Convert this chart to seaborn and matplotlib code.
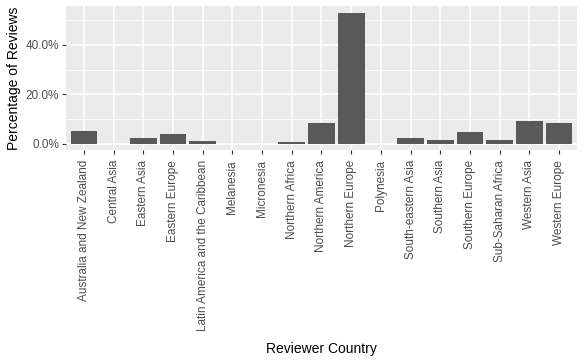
import matplotlib
matplotlib.use("Agg")
import matplotlib.pyplot as plt
import matplotlib.ticker as mticker
import seaborn as sns
import pandas as pd

# share of reviews per reviewer region (percent)
countries = [
    "Australia and New Zealand", "Central Asia", "Eastern Asia", "Eastern Europe",
    "Latin America and the Caribbean", "Melanesia", "Micronesia", "Northern Africa",
    "Northern America", "Northern Europe", "Polynesia", "South-eastern Asia",
    "Southern Asia", "Southern Europe", "Sub-Saharan Africa", "Western Asia",
    "Western Europe",
]
pct = [5.0, 0.05, 2.3, 3.9, 1.1, 0.05, 0.05, 0.5, 8.3, 53.0, 0.05, 2.2,
       1.4, 4.6, 1.4, 9.1, 8.3]

df = pd.DataFrame({"country": countries, "pct": pct})

sns.set_theme(style="darkgrid", rc={
    "axes.facecolor": "#EBEBEB",
    "grid.color": "white",
    "axes.edgecolor": "#EBEBEB",
})
plt.rcParams["font.family"] = ["Liberation Sans", "DejaVu Sans"]

fig = plt.figure(figsize=(5.85, 3.61), dpi=100)
ax = fig.add_axes([0.113, 0.584, 0.873, 0.399])

sns.barplot(data=df, x="country", y="pct", color="#595959", width=0.9,
            saturation=1, linewidth=0, ax=ax, zorder=3)

ymax = max(pct)
ax.set_ylim(-0.05 * ymax, ymax * 1.05)
ax.set_xlim(-0.6, len(countries) - 0.4)
ax.yaxis.set_major_locator(mticker.MultipleLocator(20))
ax.yaxis.set_minor_locator(mticker.MultipleLocator(10))
ax.yaxis.set_major_formatter(mticker.FuncFormatter(lambda v, p: f"{v:.1f}%"))
ax.grid(True, which="major", color="white", linewidth=1.1)
ax.grid(True, which="minor", axis="y", color="white", linewidth=0.55)
ax.set_axisbelow(True)
for s in ax.spines.values():
    s.set_visible(False)

ax.tick_params(axis="both", which="major", bottom=True, left=True, length=3,
               width=0.8, color="#333333", labelsize=8.5, labelcolor="#4D4D4D", pad=2)
ax.tick_params(axis="x", which="major", pad=4)
ax.tick_params(axis="y", which="minor", length=0)
ax.set_xticks(range(len(countries)))
ax.set_xticklabels(countries, rotation=90)

ax.set_xlabel("Reviewer Country", fontsize=10, color="black", labelpad=8)
ax.set_ylabel("Percentage of Reviews", fontsize=10, color="black", labelpad=3)

fig.savefig("out.png", dpi=100)
plt.close(fig)
